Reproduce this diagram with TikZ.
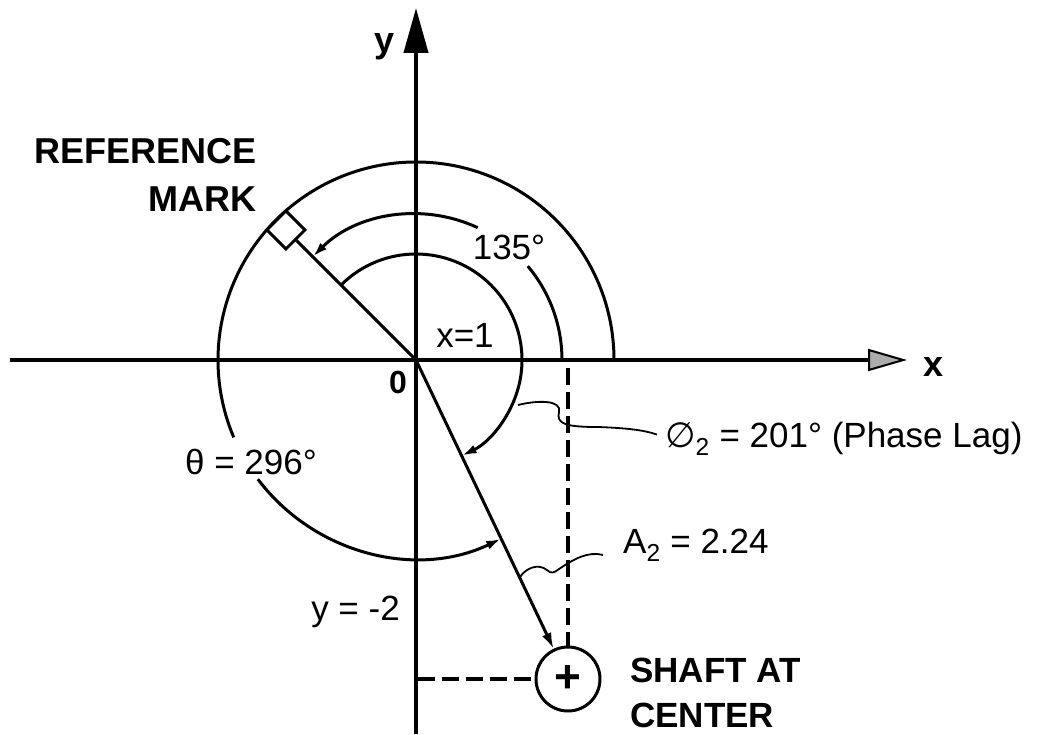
\documentclass[tikz,border=0pt]{standalone}
\usepackage{fontspec}
\setmainfont{Liberation Sans}
\newfontfamily\symfont{DejaVu Sans}
\usepackage{tikz}
\usetikzlibrary{calc,arrows.meta,positioning}
\tikzset{
  axisline/.style={draw=black, line width=4pt},
  arcline/.style={draw=black, line width=3pt},
  arctip/.style={arcline, -{Latex[length=15pt,width=9pt]}},
  vecline/.style={arcline, -{Latex[length=16pt,width=10pt]}},
  dashline/.style={draw=black, line width=3.2pt, dash pattern=on 17pt off 7pt},
  leader/.style={draw=black, line width=1.8pt},
  lbl/.style={inner sep=0pt, font=\fontsize{35}{42}\selectfont},
  boldlbl/.style={inner sep=0pt, font=\bfseries\fontsize{36}{48}\selectfont},
  refmark/.style={arcline, fill=white, minimum size=27pt, inner sep=0pt, rotate=45},
  shaftbox/.style={circle, arcline, minimum size=64pt, inner sep=0pt,
    font=\bfseries\fontsize{46}{46}\selectfont}
}
\begin{document}
\begin{tikzpicture}[x=1pt, y=1pt]
  \useasboundingbox (-416,-374) rectangle (638,360);
  \coordinate (O) at (0,0);
  \coordinate (xlo) at (-406,0);
  \coordinate (xhi) at (491,0);
  \coordinate (ylo) at (0,-374);
  \coordinate (yhi) at (0,352);

  \draw[axisline, -{Triangle[length=39pt,width=22pt,fill=gray!65,line width=2pt]}] (xlo) -- (xhi);
  \draw[axisline, -{Triangle[length=45pt,width=24pt]}] (ylo) -- (yhi);
  \node[boldlbl, right=16pt of xhi, yshift=-7pt] (xlbl) {x};
  \node[boldlbl, anchor=base east] (ylbl) at (-21,307) {y};

  \draw[arcline] (0:198) arc[start angle=0, end angle=203, radius=198pt];
  \draw[arctip] (217:198) arc[start angle=217, end angle=295.5, radius=198pt];
  \draw[arcline] (0:146) arc[start angle=0, end angle=40, radius=146pt];
  \draw[arctip] (65:146) arc[start angle=65, end angle=135, radius=146pt];
  \draw[arctip] (135:106) arc[start angle=135, end angle=-64.5, radius=106pt];

  \node[refmark] (mark) at (135:184) {};
  \draw[arcline] (O) -- (mark);
  \node[boldlbl, align=right, anchor=north east] (marklbl) at (-159,222) {REFERENCE\\MARK};

  \node[shaftbox] (shaft) at (152,-319) {+};
  \draw[vecline] (O) -- (shaft);
  \coordinate (xmark) at (152,-8);
  \coordinate (ymark) at (1.5,-319);
  \draw[dashline] (xmark) -- (shaft.north);
  \draw[dashline] (ymark) -- (shaft.west);
  \node[boldlbl, align=left, anchor=north west, font=\bfseries\fontsize{35}{45}\selectfont] (shaftlbl) at (214,-298) {SHAFT AT\\CENTER};

  \node[lbl] (anglbl) at (93,113) {135°};
  \node[lbl] (xonelbl) at (49,25) {x=1};
  \node[boldlbl, font=\bfseries\fontsize{32}{32}\selectfont] (olbl) at (-18,-22) {0};
  \node[lbl] (thetalbl) at (-165,-102) {θ = 296°};
  \node[lbl, anchor=base east] (ytwolbl) at (-16,-260) {y = -2};
  \node[lbl, anchor=base west] (phaselbl) at (249,-87) {{\symfont ∅}\textsubscript{2} = 201° (Phase Lag)};
  \node[lbl, anchor=base west] (amplbl) at (207,-193) {A\textsubscript{2} = 2.24};

  \coordinate (phstart) at (102,-45);
  \draw[leader] (phstart) .. controls (122,-40) and (146,-40) .. (143,-52)
    .. controls (140,-64) and (150,-67) .. (182,-67)
    .. controls (210,-68) and (228,-70) .. ($(phaselbl.west)+(-8,4)$);
  \coordinate (ampstart) at (104,-217);
  \draw[leader] (ampstart) .. controls (110,-208) and (122,-203) .. (131,-210)
    .. controls (135,-214) and (138,-213) .. (143,-209)
    .. controls (158,-199) and (172,-191) .. ($(amplbl.west)+(-20,-10)$);
\end{tikzpicture}
\end{document}
